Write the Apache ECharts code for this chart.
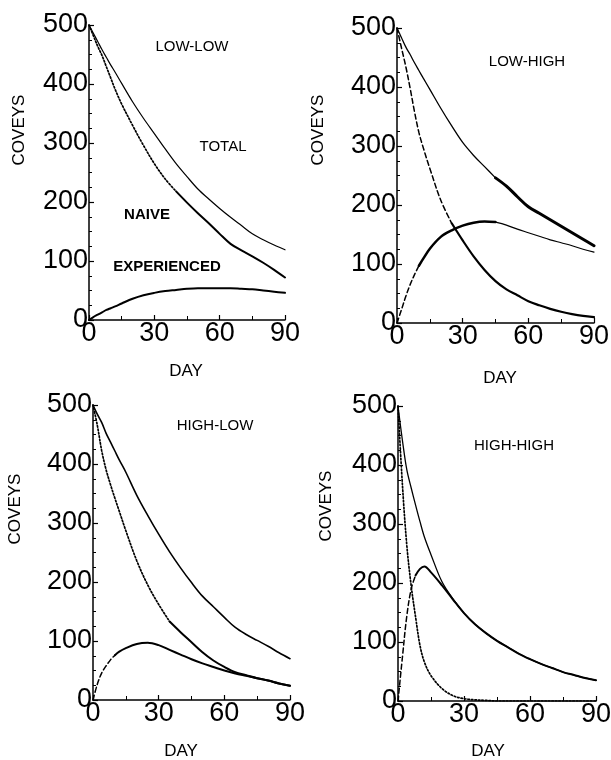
<!DOCTYPE html>
<html>
<head>
<meta charset="utf-8">
<script src="https://cdn.jsdelivr.net/npm/echarts@6/dist/echarts.min.js"></script>
<style>
html,body{margin:0;padding:0;background:#fff;}
#chart{width:611px;height:760px;}
</style>
</head>
<body>
<div id="chart"></div>
<script>
// ---- data ----
const days = [0,2,4,6,8,10,12,15,20,25,30,35,40,45,50,55,60,65,70,75,80,85,90];
const xTickLabels = [0,30,60,90];
const yTickLabels = [0,100,200,300,400,500];
const panelTitles = ['LOW-LOW','LOW-HIGH','HIGH-LOW','HIGH-HIGH'];

const lowLowTotal       = [500,486,472,458,445,432,420,401,370,342,316,290,265,243,222,205,189,174,160,146,136,127,119];
const lowLowNaive       = [500,482,464,448,429,410,391,366,330,296,265,239,218,199,181,164,146,129,118,108,97,85,72];
const lowLowExperienced = [0,5,9,13,17,20,23,28,36,42,46,49,51,53,54,54,54,54,53,52,50,48,46];

const lowHighTotal       = [500,484,468,455,441,428,415,396,364,334,306,284,265,246,232,214,197,186,175,164,153,142,131];
const lowHighNaive       = [500,467,435,398,358,323,297,262,208,169,140,113,90,71,57,47,37,30,24,19,15,12,10];
const lowHighExperienced = [0,22,45,65,82,97,109,126,146,157,165,170,172,171,166,159,153,147,141,136,131,125,120];

const highLowTotal       = [500,484,470,452,437,422,407,386,347,313,281,251,224,199,176,158,140,123,111,101,91,80,70];
const highLowNaive       = [500,465,422,390,365,342,320,287,236,195,162,133,115,98,81,67,56,47,42,37,33,28,24];
const highLowExperienced = [0,27,46,58,68,76,82,88,95,97,93,85,77,69,62,56,50,45,41,37,33,28,24];

const highHighTotal       = [500,442,392,361,332,304,278,248,202,173,149,130,115,102,91,80,71,63,56,49,44,39,35];
const highHighNaive       = [500,367,264,195,142,94,66,43,21,9,4,2,1,0,0,0,0,0,0,0,0,0,0];
const highHighExperienced = [0,74,144,190,213,224,228,218,196,172,149,130,115,102,91,80,71,63,56,49,44,39,35];

// ---- layout / style ----
const NUM_FONT = "'Liberation Sans',Arial,Helvetica,sans-serif";
const TXT_FONT = "'Liberation Sans',Arial,Helvetica,sans-serif";

const panels = [
  { grid:{left:89, top:25, width:196, height:295}, title:[192,47], ylab:[19,130], xlab:[186,371],
    curves:[
      {vals:lowLowTotal, seg:[[0,90,'solid',1.2]]},
      {vals:lowLowNaive, seg:[[0,40,'dotted',1.7],[40,90,'solid',2]]},
      {vals:lowLowExperienced, seg:[[0,90,'solid',2]]}
    ]},
  { grid:{left:397, top:28, width:197, height:295}, title:[527,62], ylab:[318,130], xlab:[500,378],
    curves:[
      {vals:lowHighTotal, seg:[[0,45,'solid',1.3],[45,90,'solid',3]]},
      {vals:lowHighNaive, seg:[[0,25,'dashed',1.5],[25,90,'solid',2.2]]},
      {vals:lowHighExperienced, seg:[[0,10,'dashed',1.5],[10,45,'solid',2.5],[45,90,'solid',1.2]]}
    ]},
  { grid:{left:93, top:405, width:197, height:295}, title:[215,426], ylab:[15,509], xlab:[181,751],
    curves:[
      {vals:highLowTotal, seg:[[0,90,'solid',1.6]]},
      {vals:highLowNaive, seg:[[0,35,'dotted',1.7],[35,90,'solid',2]]},
      {vals:highLowExperienced, seg:[[0,10,'dashed',1.5],[10,90,'solid',2]]}
    ]},
  { grid:{left:398, top:406, width:198, height:295}, title:[514,446], ylab:[326,506], xlab:[488,751],
    curves:[
      {vals:highHighTotal, seg:[[0,90,'solid',1.3]]},
      {vals:highHighNaive, seg:[[0,90,'dotted',1.7]]},
      {vals:highHighExperienced, seg:[[0,8,'dashed',1.5],[8,90,'solid',2]]}
    ]}
];

const grids = [], xAxes = [], yAxes = [], series = [], graphics = [];
panels.forEach((p, gi) => {
  grids.push(Object.assign({outerBoundsMode:'none', containLabel:false}, p.grid));
  xAxes.push({
    gridIndex: gi, type:'value',
    min: xTickLabels[0], max: xTickLabels[xTickLabels.length-1], interval: xTickLabels[1]-xTickLabels[0],
    axisLine:{show:true, onZero:false, lineStyle:{color:'#000', width:1.5}},
    axisTick:{show:true, inside:true, length:5, lineStyle:{color:'#000', width:1.2}},
    minorTick:{show:true, splitNumber:2, length:4, lineStyle:{color:'#000', width:1}},
    splitLine:{show:false},
    axisLabel:{color:'#000', fontSize:27, fontFamily:NUM_FONT, margin:0}
  });
  yAxes.push({
    gridIndex: gi, type:'value',
    min: yTickLabels[0], max: yTickLabels[yTickLabels.length-1], interval: yTickLabels[1]-yTickLabels[0],
    axisLine:{show:true, onZero:false, lineStyle:{color:'#000', width:1.5}},
    axisTick:{show:true, inside:true, length:5, lineStyle:{color:'#000', width:1.2}},
    minorTick:{show:true, splitNumber:4, length:3, lineStyle:{color:'#000', width:1}},
    splitLine:{show:false},
    axisLabel:{color:'#000', fontSize:27, fontFamily:NUM_FONT, margin:1}
  });
  p.curves.forEach(c => {
    c.seg.forEach(s => {
      const [from, to, type, width] = s;
      series.push({
        type:'line', xAxisIndex:gi, yAxisIndex:gi, smooth:0.35, symbol:'none', silent:true,
        lineStyle:{color:'#000', width:width, type: type==='dashed' ? [5,3] : (type==='dotted' ? [1.5,2] : 'solid'), cap:'round'},
        data: days.map((d,i)=>[d, c.vals[i]]).filter(pt => pt[0] >= from && pt[0] <= to)
      });
    });
  });
  graphics.push({type:'text', x:p.title[0], y:p.title[1],
    style:{text:panelTitles[gi], font:'15px '+TXT_FONT, fill:'#000', textAlign:'center', textVerticalAlign:'middle'}});
  graphics.push({type:'text', x:p.ylab[0], y:p.ylab[1], rotation:Math.PI/2,
    style:{text:'COVEYS', font:'17px '+TXT_FONT, fill:'#000', textAlign:'center', textVerticalAlign:'middle'}});
  graphics.push({type:'text', x:p.xlab[0], y:p.xlab[1],
    style:{text:'DAY', font:'17px '+TXT_FONT, fill:'#000', textAlign:'center', textVerticalAlign:'middle'}});
});

// curve annotations in the first panel
graphics.push({type:'text', x:223, y:147, style:{text:'TOTAL', font:'15px '+TXT_FONT, fill:'#000', textAlign:'center', textVerticalAlign:'middle'}});
graphics.push({type:'text', x:147, y:215, style:{text:'NAIVE', font:'bold 15px '+TXT_FONT, fill:'#000', textAlign:'center', textVerticalAlign:'middle'}});
graphics.push({type:'text', x:167, y:267, style:{text:'EXPERIENCED', font:'bold 15px '+TXT_FONT, fill:'#000', textAlign:'center', textVerticalAlign:'middle'}});

const chart = echarts.init(document.getElementById('chart'), null, {renderer:'canvas'});
chart.setOption({
  animation:false,
  backgroundColor:'#fff',
  grid:grids, xAxis:xAxes, yAxis:yAxes, series:series,
  graphic:{elements:graphics}
});
</script>
</body>
</html>
